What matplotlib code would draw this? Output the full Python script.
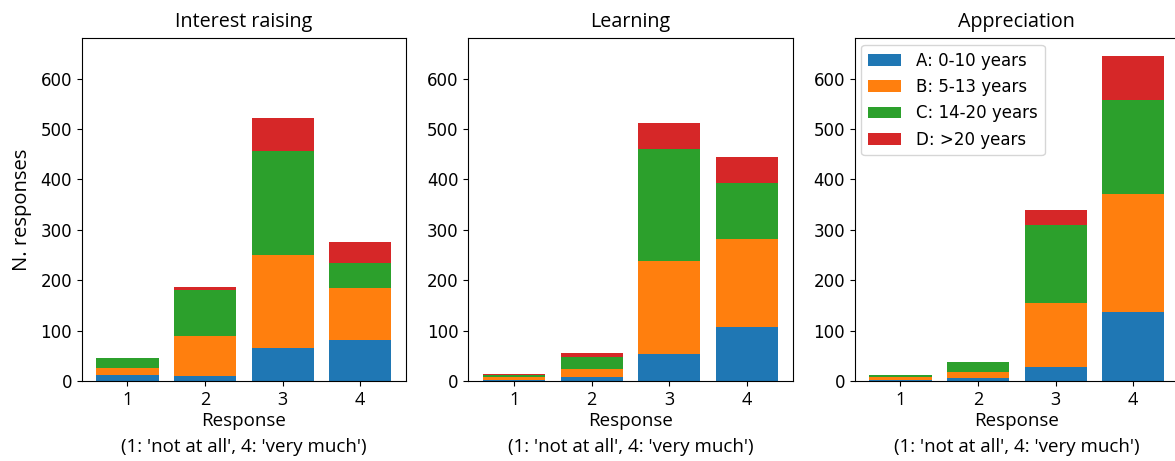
import matplotlib
matplotlib.use("Agg")
import matplotlib.pyplot as plt
import numpy as np

responses = [1, 2, 3, 4]
titles = ["Interest raising", "Learning", "Appreciation"]
group_labels = ["A: 0-10 years", "B: 5-13 years", "C: 14-20 years", "D: >20 years"]
colors = ["#1f77b4", "#ff7f0e", "#2ca02c", "#d62728"]

# values per panel: rows = groups A, B, C, D ; columns = responses 1..4
interest_A = [11, 10, 65, 81]
interest_B = [15, 80, 185, 104]
interest_C = [19, 91, 206, 50]
interest_D = [0, 5, 65, 40]

learning_A = [2, 7, 53, 108]
learning_B = [6, 17, 185, 173]
learning_C = [4, 24, 223, 112]
learning_D = [2, 7, 51, 51]

appreciation_A = [2, 5, 28, 137]
appreciation_B = [5, 12, 127, 235]
appreciation_C = [4, 21, 155, 185]
appreciation_D = [0, 0, 29, 88]

panels = [
    [interest_A, interest_B, interest_C, interest_D],
    [learning_A, learning_B, learning_C, learning_D],
    [appreciation_A, appreciation_B, appreciation_C, appreciation_D],
]

label_font = "Open Sans"

fig = plt.figure(figsize=(11.75, 4.61), dpi=100)
W, H = 1175, 461
lefts = [81.7, 468.3, 854.7]
aw = 324.3
bottom_px, top_px = 381, 38.3

for i, (title, groups) in enumerate(zip(titles, panels)):
    ax = fig.add_axes([lefts[i] / W, 1 - bottom_px / H, aw / W, (bottom_px - top_px) / H])
    base = np.zeros(len(responses))
    for vals, lab, col in zip(groups, group_labels, colors):
        ax.bar(responses, vals, width=0.8, bottom=base, color=col, label=lab)
        base = base + np.array(vals)
    ax.set_ylim(0, 680)
    ax.set_xticks(responses)
    ax.set_xticklabels([str(r) for r in responses], fontsize=13, family=label_font)
    ax.tick_params(axis="y", labelsize=12)
    ax.tick_params(axis="x", pad=3.5)
    ax.set_title(title, fontsize=14.2, family=label_font, pad=8)
    ax.set_xlabel("Response\n(1: 'not at all', 4: 'very much')", fontsize=13.5,
                  family=label_font, labelpad=2, linespacing=1.6)
    if i == 0:
        ax.set_ylabel("N. responses", fontsize=14.5, family=label_font, labelpad=6)
    if i == 2:
        ax.legend(loc="upper left", fontsize=12, handletextpad=0.9,
                  borderaxespad=0.4)

fig.savefig("out.png", dpi=100)
